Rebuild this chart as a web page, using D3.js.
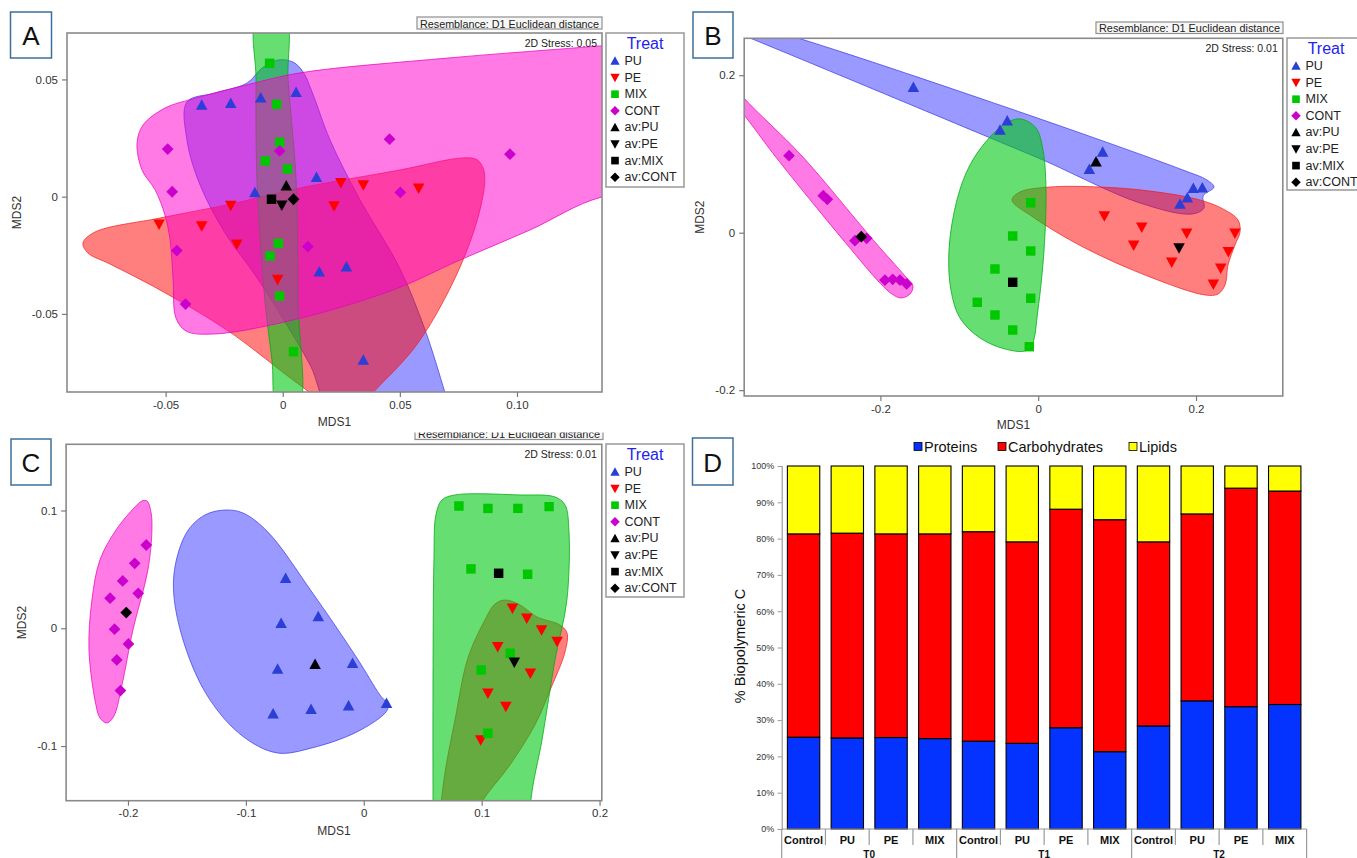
<!DOCTYPE html>
<html>
<head>
<meta charset="utf-8">
<script src="https://cdn.jsdelivr.net/npm/d3@7"></script>
<style>
  body { margin: 0; background: #fff; }
  svg { display: block; }
  text { font-family: "Liberation Sans", Arial, sans-serif; }
</style>
</head>
<body>
<svg id="fig" width="1357" height="858"></svg>
<script>
// ---------- nMDS ordinations (MDS1, MDS2) ----------
const treatments = ["PU", "PE", "MIX", "CONT"];
const legendLabels = ["PU", "PE", "MIX", "CONT", "av:PU", "av:PE", "av:MIX", "av:CONT"];

// Panel A
const aPU   = [[-0.0346,0.0391],[-0.0222,0.0398],[-0.0094,0.0422],[0.0057,0.0445],[0.0144,0.0083],[-0.0119,0.0018],[0.0156,-0.0320],[0.0272,-0.0299],[0.0344,-0.0697]];
const aPE   = [[-0.0528,-0.0118],[-0.0346,-0.0125],[-0.0222,-0.0038],[-0.0196,-0.0203],[-0.0022,-0.0353],[0.0219,-0.0040],[0.0248,0.0060],[0.0344,0.0050],[0.0580,0.0036]];
const aMIX  = [[-0.0056,0.0569],[-0.0026,0.0394],[-0.0013,0.0232],[-0.0074,0.0152],[0.0020,0.0118],[-0.0019,-0.0199],[-0.0054,-0.0253],[-0.0013,-0.0424],[0.0046,-0.0661]];
const aCONT = [[-0.0491,0.0203],[-0.0472,0.0021],[-0.0013,0.0195],[0.0456,0.0245],[0.0970,0.0181],[0.0502,0.0018],[-0.0452,-0.0230],[0.0107,-0.0213],[-0.0415,-0.0458]];
const aAvg  = [[0.0015,0.0047],[-0.0004,-0.0036],[-0.0048,-0.0011],[0.0046,-0.0011]];
const aXTicks = [-0.05, 0, 0.05, 0.10];
const aYTicks = [-0.05, 0, 0.05];

// Panel A group outlines
const aHullPU = [[-0.0409,0.0404],[-0.0289,0.0442],[-0.0152,0.0485],[-0.0088,0.0549],[-0.0020,0.0583],[0.0044,0.0574],[0.0087,0.0532],[0.0125,0.0447],[0.0202,0.0242],[0.0330,-0.0014],[0.0497,-0.0300],[0.0608,-0.0569],[0.0692,-0.0833],[0.0722,-0.0931],[0.0223,-0.0931],[0.0117,-0.0718],[-0.0003,-0.0513],[-0.0118,-0.0334],[-0.0246,-0.0155],[-0.0353,0.0050],[-0.0409,0.0242]];
const aHullPE = [[-0.0853,-0.0198],[-0.0802,-0.0151],[-0.0524,-0.0091],[-0.0238,-0.0035],[0.0074,0.0037],[0.0501,0.0114],[0.0766,0.0165],[0.0830,0.0157],[0.0860,0.0106],[0.0847,-0.0035],[0.0757,-0.0300],[0.0586,-0.0612],[0.0437,-0.0782],[0.0330,-0.0876],[0.0202,-0.0889],[0.0074,-0.0804],[-0.0238,-0.0569],[-0.0524,-0.0398],[-0.0738,-0.0287],[-0.0832,-0.0240]];
const aHullMIX = [[-0.0110,0.0754],[-0.0114,0.0498],[-0.0110,0.0071],[-0.0076,-0.0441],[-0.0046,-0.0697],[-0.0020,-0.0910],[0.0065,-0.0910],[0.0065,-0.0441],[0.0057,0.0071],[0.0023,0.0498],[0.0010,0.0754]];
const aHullCONT = [[-0.0622,0.0229],[-0.0596,0.0306],[-0.0503,0.0378],[-0.0383,0.0417],[-0.0152,0.0477],[0.0074,0.0528],[0.0714,0.0592],[0.1355,0.0643],[0.1867,0.0686],[0.1867,0.0050],[0.1363,-0.0001],[0.1056,-0.0142],[0.0757,-0.0270],[0.0471,-0.0398],[0.0044,-0.0526],[-0.0298,-0.0586],[-0.0413,-0.0573],[-0.0456,-0.0517],[-0.0468,-0.0355],[-0.0481,-0.0185],[-0.0503,-0.0078],[-0.0545,0.0029],[-0.0601,0.0114]];

// Panel B
const bPU   = [[-0.1582,0.1846],[-0.0392,0.1422],[-0.0484,0.1304],[0.0817,0.1025],[0.0648,0.0805],[0.1966,0.0564],[0.2080,0.0571],[0.1890,0.0444],[0.1797,0.0364]];
const bPE   = [[0.0838,0.0212],[0.1312,0.0068],[0.1210,-0.0160],[0.1882,-0.0008],[0.1692,-0.0376],[0.2494,-0.0008],[0.2410,-0.0241],[0.2313,-0.0452],[0.2220,-0.0655]];
const bMIX  = [[-0.0095,0.0381],[-0.0323,-0.0042],[-0.0095,-0.0232],[-0.0548,-0.0461],[-0.0772,-0.0884],[-0.0095,-0.0833],[-0.0548,-0.1045],[-0.0323,-0.1236],[-0.0113,-0.1448]];
const bCONT = [[-0.3158,0.0978],[-0.2724,0.0470],[-0.2673,0.0424],[-0.2322,-0.0102],[-0.2174,-0.0071],[-0.1942,-0.0601],[-0.1844,-0.0592],[-0.1752,-0.0601],[-0.1667,-0.0651]];
const bAvg  = [[0.0733,0.0902],[0.1785,-0.0194],[-0.0323,-0.0630],[-0.2242,-0.0051]];
const bXTicks = [-0.2, 0, 0.2];
const bYTicks = [-0.2, 0, 0.2];

const bHullPU = [[-0.4286,0.2828],[-0.3044,0.2472],[-0.0231,0.1533],[0.1835,0.0796],[0.2139,0.0669],[0.2228,0.0580],[0.2089,0.0466],[0.2101,0.0314],[0.1949,0.0237],[0.1290,0.0377],[0.0061,0.0923],[-0.0484,0.1152],[-0.3653,0.2472],[-0.4286,0.2726]];
const bHullPE = [[-0.0332,0.0415],[-0.0231,0.0517],[0.0150,0.0580],[0.0783,0.0580],[0.1417,0.0529],[0.2051,0.0415],[0.2368,0.0288],[0.2533,0.0161],[0.2558,0.0009],[0.2494,-0.0156],[0.2406,-0.0410],[0.2368,-0.0664],[0.2279,-0.0779],[0.2114,-0.0791],[0.1417,-0.0563],[0.0568,-0.0182],[-0.0066,0.0199]];
const bHullMIX = [[-0.0218,0.1444],[-0.0028,0.1330],[0.0061,0.1050],[0.0099,0.0542],[0.0074,-0.0220],[-0.0003,-0.0981],[-0.0079,-0.1425],[-0.0167,-0.1502],[-0.0421,-0.1477],[-0.0738,-0.1337],[-0.0992,-0.1083],[-0.1106,-0.0728],[-0.1131,-0.0220],[-0.1030,0.0415],[-0.0865,0.0860],[-0.0611,0.1215],[-0.0383,0.1406]];
const bHullCONT = [[-0.3906,0.1939],[-0.3729,0.1711],[-0.2994,0.0974],[-0.2081,-0.0105],[-0.1688,-0.0550],[-0.1587,-0.0677],[-0.1625,-0.0779],[-0.1739,-0.0829],[-0.1853,-0.0779],[-0.2005,-0.0639],[-0.2461,-0.0105],[-0.3336,0.0974],[-0.3729,0.1495],[-0.3906,0.1685]];

// Panel C
const cPU   = [[-0.0663,0.0424],[-0.0701,0.0042],[-0.0386,0.0099],[-0.0731,-0.0345],[-0.0095,-0.0297],[-0.0769,-0.0727],[-0.0447,-0.0687],[-0.0129,-0.0659],[0.0193,-0.0636]];
const cPE   = [[0.1261,0.0170],[0.1383,0.0085],[0.1508,-0.0014],[0.1640,-0.0113],[0.1136,-0.0156],[0.1413,-0.0382],[0.1053,-0.0552],[0.1205,-0.0665],[0.0992,-0.0948]];
const cMIX  = [[0.0807,0.1038],[0.1053,0.1018],[0.1307,0.1018],[0.1572,0.1033],[0.0909,0.0504],[0.1390,0.0458],[0.1242,-0.0212],[0.0996,-0.0354],[0.1053,-0.0891]];
const cCONT = [[-0.1845,0.0707],[-0.1943,0.0552],[-0.2045,0.0402],[-0.1913,0.0297],[-0.2152,0.0255],[-0.2114,-0.0008],[-0.1996,-0.0133],[-0.2095,-0.0269],[-0.2064,-0.0529]];
const cAvg  = [[-0.0413,-0.0306],[0.1277,-0.0289],[0.1144,0.0467],[-0.2015,0.0133]];
const cXTicks = [-0.2, -0.1, 0, 0.1, 0.2];
const cYTicks = [-0.1, 0, 0.1];

const cHullPU = [[-0.1177,0.1004],[-0.1025,0.0979],[-0.0813,0.0817],[-0.0440,0.0308],[-0.0058,-0.0253],[0.0137,-0.0566],[0.0205,-0.0651],[0.0188,-0.0711],[-0.0058,-0.0880],[-0.0440,-0.1016],[-0.0737,-0.1058],[-0.1042,-0.0905],[-0.1347,-0.0540],[-0.1568,0.0028],[-0.1611,0.0452],[-0.1500,0.0817],[-0.1347,0.0962]];
const cHullPE = [[0.1198,0.0240],[0.1325,0.0198],[0.1469,0.0096],[0.1664,0.0028],[0.1724,-0.0040],[0.1707,-0.0201],[0.1588,-0.0507],[0.1452,-0.0820],[0.1240,-0.1160],[0.0986,-0.1500],[0.0833,-0.1882],[0.0688,-0.1967],[0.0646,-0.1712],[0.0680,-0.1286],[0.0774,-0.0777],[0.0884,-0.0251],[0.1028,0.0071],[0.1113,0.0206]];
const cHullMIX = [[0.0587,-0.2306],[0.0587,-0.1456],[0.0587,-0.0608],[0.0595,0.0580],[0.0612,0.0962],[0.0663,0.1089],[0.0774,0.1132],[0.1325,0.1132],[0.1622,0.1115],[0.1707,0.1047],[0.1740,0.0834],[0.1723,0.0240],[0.1622,-0.0269],[0.1512,-0.0948],[0.1418,-0.1456],[0.1384,-0.2306]];
const cHullCONT = [[-0.1839,0.1081],[-0.1805,0.0987],[-0.1797,0.0834],[-0.1831,0.0495],[-0.1958,-0.0014],[-0.2051,-0.0481],[-0.2119,-0.0744],[-0.2178,-0.0804],[-0.2238,-0.0761],[-0.2272,-0.0651],[-0.2331,-0.0184],[-0.2306,0.0240],[-0.2238,0.0580],[-0.2102,0.0834],[-0.1941,0.1030],[-0.1882,0.1081]];

// ---------- Biopolymeric C composition (%) ----------
const dGroups = ["T0", "T1", "T2"];
const dTreatments = ["Control", "PU", "PE", "MIX"];
const proteins      = [25.3, 25.1, 25.2, 24.9, 24.2, 23.6, 27.9, 21.3, 28.4, 35.3, 33.7, 34.3];
const carbohydrates = [56.0, 56.4, 56.1, 56.4, 57.7, 55.5, 60.2, 63.9, 50.7, 51.5, 60.2, 58.8];
const lipids        = [18.7, 18.5, 18.7, 18.7, 18.1, 20.9, 11.9, 14.8, 20.9, 13.2, 6.1, 6.9];
const pctTicks = [0, 10, 20, 30, 40, 50, 60, 70, 80, 90, 100];
const fractions = ["Proteins", "Carbohydrates", "Lipids"];

// ---------- styling ----------
const FONT = '"Liberation Sans", Arial, sans-serif';
const markColor = { PU: "#2b3fd6", PE: "#ff0000", MIX: "#00c800", CONT: "#cc00cc" };
const hullFill = { PU: "rgba(51,51,255,0.5)", PE: "rgba(255,0,0,0.5)", MIX: "rgba(0,200,20,0.6)", CONT: "rgba(255,0,204,0.52)" };
const hullLine = { PU: "rgba(60,60,230,0.8)", PE: "rgba(240,30,30,0.8)", MIX: "rgba(0,170,20,0.85)", CONT: "rgba(230,0,190,0.8)" };
const markShape = { PU: "up", PE: "down", MIX: "square", CONT: "diamond" };
const fracColor = { Proteins: "#0433ff", Carbohydrates: "#ff0000", Lipids: "#ffff00" };

const svg = d3.select("#fig");
svg.append("rect").attr("width", 1357).attr("height", 858).attr("fill", "#fff");

function shapePath(kind, s) {
  if (kind === "up") return `M0,${-0.55 * s}L${0.55 * s},${0.45 * s}L${-0.55 * s},${0.45 * s}Z`;
  if (kind === "down") return `M0,${0.55 * s}L${0.55 * s},${-0.45 * s}L${-0.55 * s},${-0.45 * s}Z`;
  if (kind === "square") return `M${-0.45 * s},${-0.45 * s}h${0.9 * s}v${0.9 * s}h${-0.9 * s}Z`;
  return `M0,${-0.56 * s}L${0.56 * s},0L0,${0.56 * s}L${-0.56 * s},0Z`;
}

function decFormat(n) {
  return d => d === 0 ? "0" : (d < 0 ? "-" : "") + Math.abs(d).toFixed(n);
}

function letterBox(letter, x, y, w, h) {
  svg.append("rect").attr("x", x).attr("y", y).attr("width", w).attr("height", h)
    .attr("fill", "#fff").attr("stroke", "#3f6f98").attr("stroke-width", 1.5);
  svg.append("text").attr("x", x + w / 2).attr("y", y + h / 2 + 1)
    .attr("text-anchor", "middle").attr("dominant-baseline", "central")
    .style("font-size", "26px").attr("fill", "#111").text(letter);
}

function drawMDS(cfg) {
  const { box } = cfg;
  const g = svg.append("g");
  const x = d3.scaleLinear().domain(cfg.xDomain).range([box.x0, box.x1]);
  const y = d3.scaleLinear().domain(cfg.yDomain).range([box.y1, box.y0]);

  const clipId = "clip" + cfg.letter;
  g.append("clipPath").attr("id", clipId).append("rect")
    .attr("x", box.x0).attr("y", box.y0).attr("width", box.x1 - box.x0).attr("height", box.y1 - box.y0);

  const plot = g.append("g").attr("clip-path", `url(#${clipId})`);
  const outline = d3.line().x(d => x(d[0])).y(d => y(d[1])).curve(d3.curveCatmullRomClosed.alpha(0.5));

  // group outlines, stacked PU -> PE -> MIX -> CONT
  treatments.forEach((t, i) => {
    plot.append("path").attr("d", outline(cfg.hulls[i]))
      .attr("fill", hullFill[t]).attr("stroke", hullLine[t]).attr("stroke-width", 0.9);
  });

  // samples
  treatments.forEach((t, i) => {
    plot.selectAll(null).data(cfg.points[i]).join("path")
      .attr("transform", d => `translate(${x(d[0])},${y(d[1])})`)
      .attr("d", shapePath(markShape[t], 10.5)).attr("fill", markColor[t]);
  });
  // group centroids
  plot.selectAll(null).data(cfg.avg).join("path")
    .attr("transform", d => `translate(${x(d[0])},${y(d[1])})`)
    .attr("d", (d, i) => shapePath(markShape[treatments[i]], 10.5)).attr("fill", "#000");

  // frame
  g.append("rect").attr("x", box.x0).attr("y", box.y0)
    .attr("width", box.x1 - box.x0).attr("height", box.y1 - box.y0)
    .attr("fill", "none").attr("stroke", "#8a8a8a").attr("stroke-width", 1.6);

  const styleAxis = a => {
    a.select(".domain").remove();
    a.attr("font-family", FONT).attr("font-size", 11.5);
    a.selectAll("line").attr("stroke", "#7a7a7a").attr("stroke-width", 1.2);
    a.selectAll("text").attr("fill", "#333");
  };
  g.append("g").attr("transform", `translate(0,${box.y1})`)
    .call(d3.axisBottom(x).tickValues(cfg.xTicks).tickFormat(cfg.fmt).tickSize(5).tickPadding(3.5))
    .call(styleAxis);
  g.append("g").attr("transform", `translate(${box.x0},0)`)
    .call(d3.axisLeft(y).tickValues(cfg.yTicks).tickFormat(cfg.fmt).tickSize(5).tickPadding(4))
    .call(styleAxis);

  // axis titles
  g.append("text").attr("x", (box.x0 + box.x1) / 2).attr("y", cfg.mds1Y)
    .attr("text-anchor", "middle").style("font-size", "12px").attr("fill", "#333").text("MDS1");
  g.append("text").attr("transform", `translate(${cfg.mds2X},${(box.y0 + box.y1) / 2}) rotate(-90)`)
    .attr("text-anchor", "middle").attr("dominant-baseline", "central")
    .style("font-size", "12px").attr("fill", "#333").text("MDS2");

  // stress
  g.append("text").attr("x", box.x1 - 5).attr("y", box.y0 + 10)
    .attr("text-anchor", "end").attr("dominant-baseline", "central")
    .style("font-size", "10.5px").attr("fill", "#222").text(cfg.stress);

  // resemblance note
  const r = cfg.resem;
  const rg = g.append("g");
  if (r.clipTop !== undefined) {
    const rc = "rclip" + cfg.letter;
    g.append("clipPath").attr("id", rc).append("rect")
      .attr("x", r.x - 2).attr("y", r.clipTop).attr("width", r.w + 4).attr("height", r.h + 10);
    rg.attr("clip-path", `url(#${rc})`);
  }
  rg.append("rect").attr("x", r.x).attr("y", r.y).attr("width", r.w).attr("height", r.h)
    .attr("fill", "#f7f7f7").attr("stroke", "#8f8f8f").attr("stroke-width", 1.2);
  rg.append("text").attr("x", r.x + r.w / 2).attr("y", r.y + r.h / 2 + 0.5)
    .attr("text-anchor", "middle").attr("dominant-baseline", "central")
    .attr("textLength", r.w - 6).attr("lengthAdjust", "spacingAndGlyphs")
    .style("font-size", "10.5px").attr("fill", "#222").text("Resemblance: D1 Euclidean distance");

  // legend
  const L = cfg.legend;
  const lg = g.append("g");
  lg.append("rect").attr("x", L.x).attr("y", L.y).attr("width", L.w).attr("height", L.h)
    .attr("fill", "#fff").attr("stroke", "#999").attr("stroke-width", 1.5);
  lg.append("text").attr("x", L.x + 39).attr("y", L.y + 10.5)
    .attr("text-anchor", "middle").attr("dominant-baseline", "central")
    .style("font-size", "16px").attr("fill", "#2323f0").text("Treat");
  const entries = legendLabels.map((lab, i) => ({
    lab, kind: markShape[treatments[i % 4]], color: i < 4 ? markColor[treatments[i]] : "#000"
  }));
  const item = lg.selectAll(null).data(entries).join("g")
    .attr("transform", (d, i) => `translate(${L.x + 9},${L.y + 28 + i * 16.6})`);
  item.append("path").attr("d", d => shapePath(d.kind, 8.5)).attr("fill", d => d.color);
  item.append("text").attr("x", 9.5).attr("dominant-baseline", "central")
    .style("font-size", "12.5px").attr("fill", "#222").text(d => d.lab);

  letterBox(cfg.letter, ...cfg.letterBox);
}

drawMDS({
  letter: "A", letterBox: [10.5, 12, 41, 46],
  box: { x0: 67, x1: 602, y0: 33, y1: 392 },
  xDomain: [-0.0921, 0.1363], yDomain: [-0.0833, 0.0698],
  xTicks: aXTicks, yTicks: aYTicks, fmt: decFormat(2),
  points: [aPU, aPE, aMIX, aCONT], avg: aAvg,
  hulls: [aHullPU, aHullPE, aHullMIX, aHullCONT],
  stress: "2D Stress: 0.05",
  resem: { x: 417, y: 17, w: 185, h: 12 },
  legend: { x: 606, y: 33, w: 78, h: 154 },
  mds1Y: 426, mds2X: 17
});

drawMDS({
  letter: "B", letterBox: [693, 12, 40, 46],
  box: { x0: 744.2, x1: 1282.8, y0: 38.3, y1: 396 },
  xDomain: [-0.3726, 0.3100], yDomain: [-0.2074, 0.2469],
  xTicks: bXTicks, yTicks: bYTicks, fmt: decFormat(1),
  points: [bPU, bPE, bMIX, bCONT], avg: bAvg,
  hulls: [bHullPU, bHullPE, bHullMIX, bHullCONT],
  stress: "2D Stress: 0.01",
  resem: { x: 1096, y: 22, w: 187, h: 11.5 },
  legend: { x: 1287, y: 38, w: 80, h: 152 },
  mds1Y: 429, mds2X: 700
});

drawMDS({
  letter: "C", letterBox: [11, 439, 40, 46],
  box: { x0: 66.1, x1: 601.8, y0: 444.3, y1: 800.7 },
  xDomain: [-0.2525, 0.2019], yDomain: [-0.1464, 0.1562],
  xTicks: cXTicks, yTicks: cYTicks, fmt: decFormat(1),
  points: [cPU, cPE, cMIX, cCONT], avg: cAvg,
  hulls: [cHullPU, cHullPE, cHullMIX, cHullCONT],
  stress: "2D Stress: 0.01",
  resem: { x: 415, y: 427.5, w: 188, h: 12, clipTop: 432.5 },
  legend: { x: 606, y: 444, w: 78, h: 153 },
  mds1Y: 835, mds2X: 22
});

// ---------- Panel D: stacked composition bars ----------
(function drawBars() {
  const rows = [];
  dGroups.forEach((grp, gi) => dTreatments.forEach((tr, ti) => {
    const i = gi * dTreatments.length + ti;
    rows.push({ key: grp + "|" + tr, group: grp, treat: tr,
      Proteins: proteins[i], Carbohydrates: carbohydrates[i], Lipids: lipids[i] });
  }));

  const x0 = 781.7, x1 = 1306.6, yTop = 466, yBot = 829;
  const x = d3.scaleBand().domain(rows.map(r => r.key)).range([x0, x1])
    .paddingInner(0.26).paddingOuter(0.13);
  const y = d3.scaleLinear().domain([0, 100]).range([yBot, yTop]);
  const series = d3.stack().keys(fractions)(rows);
  const g = svg.append("g");

  g.selectAll(null).data(series).join("g").attr("fill", s => fracColor[s.key])
    .selectAll("rect").data(s => s).join("rect")
    .attr("x", d => x(d.data.key)).attr("width", x.bandwidth())
    .attr("y", d => y(d[1])).attr("height", d => y(d[0]) - y(d[1]))
    .attr("stroke", "#000").attr("stroke-width", 1.1);

  // value axis
  g.append("g").attr("transform", `translate(${x0},0)`)
    .call(d3.axisLeft(y).tickValues(pctTicks).tickFormat(d => d + "%").tickSize(4).tickPadding(3.5))
    .call(a => {
      a.attr("font-family", FONT).attr("font-size", 9);
      a.select(".domain").attr("stroke", "#9a9a9a").attr("stroke-width", 1.2);
      a.selectAll("line").attr("stroke", "#9a9a9a");
      a.selectAll("text").attr("fill", "#333");
    });

  // category axis with separators between bars and longer ones between time points
  g.append("line").attr("x1", x0).attr("x2", x1).attr("y1", yBot).attr("y2", yBot)
    .attr("stroke", "#9a9a9a").attr("stroke-width", 1.2);
  const edges = d3.range(rows.length + 1).map(i => ({ i, pos: x0 + i * (x1 - x0) / rows.length }));
  g.selectAll(null).data(edges).join("line")
    .attr("x1", d => d.pos).attr("x2", d => d.pos)
    .attr("y1", yBot).attr("y2", d => d.i % dTreatments.length === 0 ? 860 : 845)
    .attr("stroke", "#9a9a9a").attr("stroke-width", 1.2);

  g.selectAll(null).data(rows).join("text")
    .attr("x", d => x(d.key) + x.bandwidth() / 2).attr("y", 843.5)
    .attr("text-anchor", "middle").style("font-size", "11px").style("font-weight", "bold")
    .attr("fill", "#111").text(d => d.treat);

  g.selectAll(null).data(dGroups).join("text")
    .attr("x", (d, gi) => x0 + (gi + 0.5) * (x1 - x0) / dGroups.length).attr("y", 857.5)
    .attr("text-anchor", "middle").style("font-size", "10px").style("font-weight", "bold")
    .attr("fill", "#111").text(d => d);

  // value-axis title
  g.append("text").attr("transform", `translate(740,646) rotate(-90)`)
    .attr("text-anchor", "middle").attr("dominant-baseline", "central")
    .style("font-size", "14.5px").attr("fill", "#111").text("% Biopolymeric C");

  // legend
  const legX = [914, 998, 1129];
  const lg = g.selectAll(null).data(fractions).join("g")
    .attr("transform", (d, i) => `translate(${legX[i]},446.5)`);
  lg.append("rect").attr("x", 0).attr("y", -4).attr("width", 8).attr("height", 8)
    .attr("fill", d => fracColor[d]).attr("stroke", "#000").attr("stroke-width", 0.8);
  lg.append("text").attr("x", 10).attr("dominant-baseline", "central")
    .style("font-size", "14.5px").attr("fill", "#111").text(d => d);

  letterBox("D", 692.5, 438, 40.5, 47);
})();
</script>
</body>
</html>
